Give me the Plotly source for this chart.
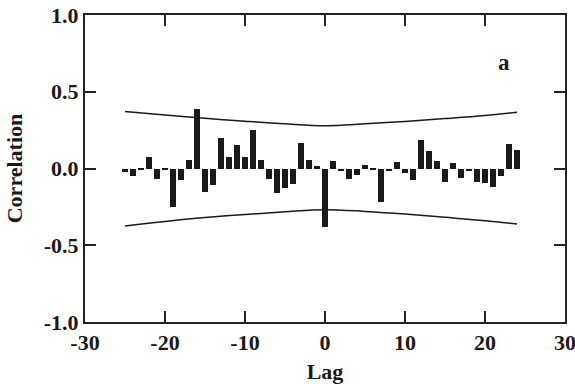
import plotly.graph_objects as go

lags = list(range(-25, 25))
corr = [-0.02, -0.048, -0.01, 0.078, -0.067, -0.012, -0.248, -0.074, 0.056, 0.386,
        -0.156, -0.106, 0.197, 0.072, 0.156, 0.078, 0.252, 0.056, -0.07, -0.16,
        -0.124, -0.104, 0.169, 0.056, 0.015, -0.378, 0.052, -0.018, -0.07, -0.041,
        0.02, -0.01, -0.219, -0.015, 0.04, -0.03, -0.074, 0.187, 0.115, 0.046,
        -0.085, 0.035, -0.063, -0.013, -0.087, -0.096, -0.12, -0.052, 0.159, 0.122]

band_lags = [-25, -20, -15, -10, -5, 0, 5, 10, 15, 20, 24]
upper = [0.372, 0.348, 0.327, 0.308, 0.291, 0.279, 0.291, 0.307, 0.325, 0.345, 0.366]
lower = [-0.375, -0.345, -0.32, -0.3, -0.282, -0.268, -0.28, -0.297, -0.318, -0.34, -0.362]

x_ticks = [-30, -20, -10, 0, 10, 20, 30]
y_ticks = [-1.0, -0.5, 0.0, 0.5, 1.0]
y_tick_text = ["-1.0", "-0.5", "0.0", "0.5", "1.0"]

font_family = "Liberation Serif, Times New Roman, serif"
ink = "#1a1a1a"

fig = go.Figure()
fig.add_trace(go.Bar(x=lags, y=corr, width=0.75, marker=dict(color=ink, line=dict(width=0))))
fig.add_trace(go.Scatter(x=band_lags, y=upper, mode="lines", line=dict(color=ink, width=1.5, shape="spline")))
fig.add_trace(go.Scatter(x=band_lags, y=lower, mode="lines", line=dict(color=ink, width=1.5, shape="spline")))

fig.add_annotation(x=22.4, y=0.69, text="a", showarrow=False,
                   font=dict(family=font_family, size=23, color=ink, weight="bold"))

axis_common = dict(showline=True, linewidth=2, linecolor="#222", mirror="ticks",
                   ticks="inside", ticklen=11, tickwidth=1.5, tickcolor="#222",
                   showgrid=False, zeroline=False, automargin=False,
                   ticklabeloverflow="allow",
                   tickfont=dict(family=font_family, size=22, color=ink, weight="bold"))

fig.update_layout(
    width=575, height=384,
    margin=dict(l=85, r=10, t=15, b=62),
    plot_bgcolor="white", paper_bgcolor="white",
    showlegend=False,
    bargap=0,
    xaxis=dict(range=[-30, 30], tickvals=x_ticks, ticktext=[str(v) for v in x_ticks],
               title=dict(text="Lag", standoff=10,
                          font=dict(family=font_family, size=22, color=ink, weight="bold")),
               **axis_common),
    yaxis=dict(range=[-1.0, 1.0], tickvals=y_ticks, ticktext=y_tick_text,
               title=dict(text="Correlation", standoff=15,
                          font=dict(family=font_family, size=22, color=ink, weight="bold")),
               **axis_common),
)

fig.write_html("out.html")
